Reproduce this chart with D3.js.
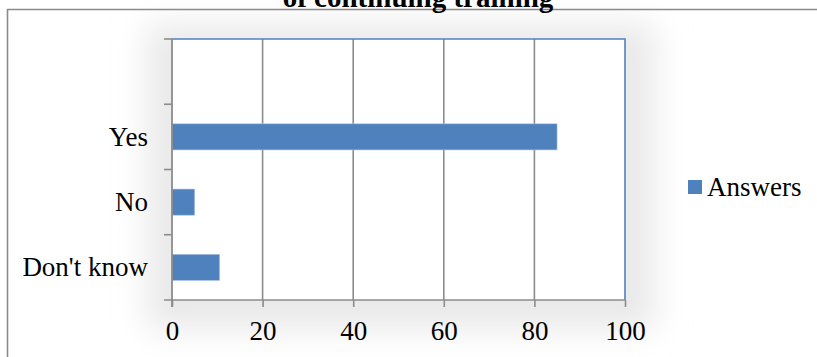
<!DOCTYPE html>
<html>
<head>
<meta charset="utf-8">
<script src="https://cdn.jsdelivr.net/npm/d3@7/dist/d3.min.js"></script>
<style>
  html, body { margin: 0; padding: 0; background: #fff; }
  svg { display: block; }
  text { font-family: "Liberation Serif", "Times New Roman", serif; fill: #000; }
</style>
</head>
<body>
<svg id="chart" width="817" height="357"></svg>
<script>
// Survey answers, drawn bottom to top; the top slot is an unlabelled blank row
const categories = ["Don't know", "No", "Yes", ""];
const answers = [10.5, 5, 85, null];
const xTicks = [0, 20, 40, 60, 80, 100];
const seriesName = "Answers";
const titleText = "of continuing training";

const svg = d3.select("#chart");
const W = 817, H = 357;
const plot = { left: 172, right: 625, top: 39, bottom: 300 };
const barColor = "#4f81bd";
const gridColor = "#8c8c8c";
const fontSize = "27px";

// soft haze around the plot area
const defs = svg.append("defs");
defs.append("filter").attr("id", "haze")
  .attr("x", "-50%").attr("y", "-50%").attr("width", "200%").attr("height", "200%")
  .append("feGaussianBlur").attr("stdDeviation", 16);

svg.append("rect")
  .attr("x", plot.left - 25).attr("y", plot.top - 15)
  .attr("width", plot.right - plot.left + 55).attr("height", plot.bottom - plot.top + 45)
  .attr("fill", "#e9e9e9").attr("filter", "url(#haze)");

// outer frame (continues past right and bottom edges)
svg.append("path")
  .attr("d", `M7.5,${H + 5} V9.5 H${W + 5}`)
  .attr("fill", "none").attr("stroke", "#8a8a8a").attr("stroke-width", 1.6);

// title, partly above the visible area
svg.append("text")
  .attr("x", 418).attr("y", 7)
  .attr("text-anchor", "middle")
  .style("font-weight", "bold").style("font-size", "29px")
  .text(titleText);

const x = d3.scaleLinear().domain([0, 100]).range([plot.left, plot.right]);
const y = d3.scaleBand().domain(categories).range([plot.bottom, plot.top]).paddingInner(0.6).paddingOuter(0.3);

// plot background
svg.append("rect")
  .attr("x", plot.left).attr("y", plot.top)
  .attr("width", plot.right - plot.left).attr("height", plot.bottom - plot.top)
  .attr("fill", "#fff");

// vertical gridlines
svg.append("g").selectAll("line")
  .data(xTicks.filter(d => d > 0 && d < 100))
  .join("line")
  .attr("x1", d => x(d)).attr("x2", d => x(d))
  .attr("y1", plot.top).attr("y2", plot.bottom)
  .attr("stroke", gridColor).attr("stroke-width", 1.6);

// plot border (top and right in blue)
svg.append("path")
  .attr("d", `M${plot.left},${plot.top} H${plot.right} V${plot.bottom}`)
  .attr("fill", "none").attr("stroke", barColor).attr("stroke-width", 1.6);

// bars
svg.append("g").selectAll("rect")
  .data(categories.map((c, i) => ({ c, v: answers[i] })).filter(d => d.v != null))
  .join("rect")
  .attr("x", x(0))
  .attr("y", d => y(d.c))
  .attr("width", d => x(d.v) - x(0))
  .attr("height", y.bandwidth())
  .attr("fill", barColor)
  .attr("stroke", "#a9c1e2").attr("stroke-width", 0.6);

// x axis
const xAxis = svg.append("g")
  .attr("transform", `translate(0,${plot.bottom})`)
  .call(d3.axisBottom(x).tickValues(xTicks).tickSize(7).tickPadding(14).tickSizeOuter(0));
xAxis.select(".domain").remove();
xAxis.selectAll(".tick line").attr("stroke", gridColor).attr("stroke-width", 1.6);
xAxis.selectAll("text").style("font-size", fontSize)
  .style("font-family", "'Liberation Serif', 'Times New Roman', serif");
svg.append("line")
  .attr("x1", plot.left - 8).attr("x2", plot.right)
  .attr("y1", plot.bottom).attr("y2", plot.bottom)
  .attr("stroke", gridColor).attr("stroke-width", 1.6);

// y axis: ticks sit on band boundaries
const step = y.step();
const boundaries = categories.map(c => y(c) - (step - y.bandwidth()) / 2);
svg.append("g").selectAll("line")
  .data(boundaries)
  .join("line")
  .attr("x1", plot.left - 8).attr("x2", plot.left)
  .attr("y1", d => d).attr("y2", d => d)
  .attr("stroke", gridColor).attr("stroke-width", 1.6);
svg.append("line")
  .attr("x1", plot.left).attr("x2", plot.left)
  .attr("y1", plot.top).attr("y2", plot.bottom + 7)
  .attr("stroke", gridColor).attr("stroke-width", 1.8);

svg.append("g").selectAll("text")
  .data(categories.filter(c => c !== ""))
  .join("text")
  .attr("x", 148)
  .attr("y", d => y(d) + y.bandwidth() / 2 + 9)
  .attr("text-anchor", "end")
  .style("font-size", fontSize)
  .text(d => d);

// legend
const legend = svg.append("g").attr("transform", "translate(688,180)");
legend.append("rect").attr("width", 14).attr("height", 14).attr("fill", barColor);
legend.append("text").attr("x", 19).attr("y", 15.5).style("font-size", fontSize).text(seriesName);
</script>
</body>
</html>
